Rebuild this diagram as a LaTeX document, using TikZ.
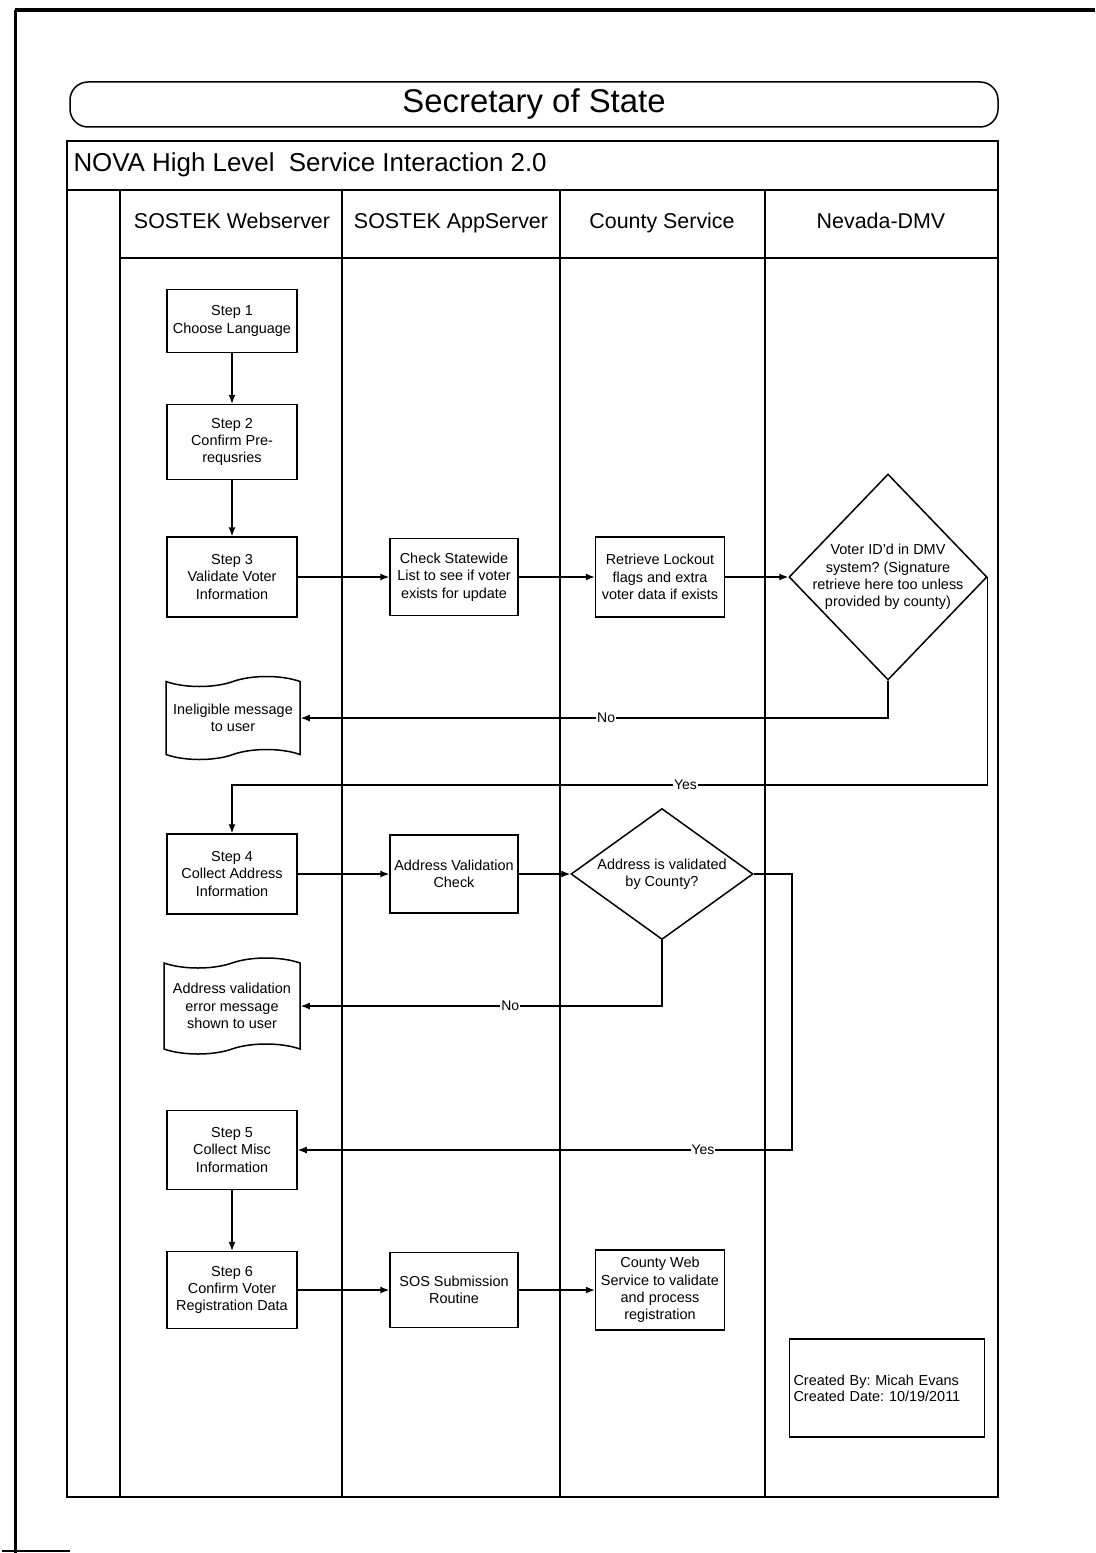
\documentclass[tikz,border=0pt]{standalone}
\usepackage{fontspec}
\setmainfont{Liberation Sans}
\frenchspacing
\usetikzlibrary{shapes.geometric,shapes.symbols,arrows.meta}

\tikzset{
  stepbox/.style={draw, line width=1.5bp, minimum width=130bp, minimum height=78bp,
    inner sep=2bp, align=center, font=\fontsize{14.5}{17.5}\selectfont},
  decision/.style={draw, diamond, line width=1.5bp, inner sep=-15bp, align=center,
    font=\fontsize{14.5}{17.5}\selectfont},
  message/.style={draw, tape, tape bend height=10bp, line width=1.5bp, minimum width=134bp,
    minimum height=83bp, align=center, font=\fontsize{14.5}{17.5}\selectfont},
  flow/.style={line width=1.2bp, -{Latex[length=9bp,width=7bp]}},
  answer/.style={fill=white, inner sep=1bp, font=\fontsize{14}{16}\selectfont},
  lanehead/.style={font=\fontsize{21.5}{26}\selectfont, text height=16bp, text depth=5bp}
}

\begin{document}
\begin{tikzpicture}[x=1bp, y=-1bp]
        \useasboundingbox (0,0) rectangle (1095,1553);

        % Page edge of the scan
        \draw[line width=4bp] (15,10) -- (1095,10);
        \draw[line width=3bp] (15,10) -- (15,1553);
        \draw[line width=2bp] (2,1551) -- (70,1551);

        % Title: Secretary of State
        \draw[rounded corners=18bp, line width=1.5bp] (70,82) rectangle (998,127);
        \node[font=\fontsize{33}{38}\selectfont] (sos) at (534,104) {Secretary of State};

        % Pool and lanes
        \draw[line width=1.8bp] (67,141) rectangle (998,1497);
        \draw[line width=1.8bp] (67,190) -- (998,190);
        \node[anchor=west, font=\fontsize{26}{30}\selectfont] (pool) at (70,165) {NOVA High Level\ \ Service Interaction 2.0};
        \draw[line width=1.5bp] (120,258) -- (998,258);
        \foreach \x in {120,342,560,765}
          \draw[line width=1.5bp] (\x,190) -- (\x,1497);
        \node[lanehead] (web) at (232,223) {SOSTEK Webserver};
        \node[lanehead] (app) at (451,223) {SOSTEK AppServer};
        \node[lanehead] (cty) at (662,223) {County Service};
        \node[lanehead] (nv) at (881,223) {Nevada-DMV};

        % First part: Steps 1 to 3 and voter lookup
        \node[stepbox, minimum height=63bp] (s1) at (232,321) {Step 1\\Choose Language};
        \node[stepbox, minimum height=75bp] (s2) at (232,442) {Step 2\\Confirm Pre-\\requsries};
        \node[stepbox, minimum height=80bp] (s3) at (232,577) {Step 3\\Validate Voter\\Information};
        \node[stepbox, minimum width=128bp, minimum height=77bp] (check) at (454,577) {Check Statewide\\List to see if voter\\exists for update};
        \node[stepbox, minimum width=129bp, minimum height=80bp] (lockout) at (660,577) {Retrieve Lockout\\flags and extra\\voter data if exists};
        \node[decision, minimum width=198bp, minimum height=206bp] (dmv) at (888,577) {Voter ID'd in DMV\\system? (Signature\\retrieve here too unless\\provided by county)};
        \node[message] (inelig) at (233,718) {Ineligible message\\to user};

        % Second part: Step 4 and address check
        \node[stepbox, minimum height=80bp] (s4) at (232,874) {Step 4\\Collect Address\\Information};
        \node[stepbox, minimum width=128bp, minimum height=78bp] (avc) at (454,874) {Address Validation\\Check};
        \node[decision, minimum width=182bp, minimum height=131bp] (addr) at (662,874) {Address is validated\\by County?};
        \node[message, minimum width=136bp, minimum height=96bp] (adderr) at (232,1006) {Address validation\\error message\\shown to user};

        % Third part: Steps 5 and 6 and submission
        \node[stepbox, minimum height=79bp] (s5) at (232,1150) {Step 5\\Collect Misc\\Information};
        \node[stepbox, minimum height=77bp] (s6) at (232,1290) {Step 6\\Confirm Voter\\Registration Data};
        \node[stepbox, minimum width=128bp, minimum height=75bp] (submit) at (454,1290) {SOS Submission\\Routine};
        \node[stepbox, minimum width=129bp, minimum height=80bp] (county) at (660,1290) {County Web\\Service to validate\\and process\\registration};

        % Credits box
        \node[draw, line width=1.5bp, minimum width=195bp, minimum height=98bp, text width=187bp,
          inner sep=3bp, align=left, font=\fontsize{14.5}{16}\selectfont] (credit) at (887,1388) {Created By: Micah Evans\\Created Date: 10/19/2011};

        % Connectors
        \coordinate (yesrow) at (0,785);
        \coordinate (yescol) at (792,0);
        \draw[flow] (s1.south) -- (s2.north);
        \draw[flow] (s2.south) -- (s3.north);
        \draw[flow] (s3.east) -- (check.west);
        \draw[flow] (check.east) -- (lockout.west);
        \draw[flow] (lockout.east) -- (dmv.west);
        \draw[flow] (dmv.south) |- node[answer, pos=0.74] {No} (inelig.east);
        \draw[flow] (dmv.east) -- (dmv.east |- yesrow) -| node[answer, pos=0.2] {Yes} (s4.north);
        \draw[flow] (s4.east) -- (avc.west);
        \draw[flow] (avc.east) -- (addr.west);
        \draw[flow] (addr.south) |- node[answer, pos=0.71] {No} (adderr.east);
        \draw[flow] (addr.east) -- (addr.east -| yescol) |- node[answer, pos=0.59] {Yes} (s5.east);
        \draw[flow] (s5.south) -- (s6.north);
        \draw[flow] (s6.east) -- (submit.west);
        \draw[flow] (submit.east) -- (county.west);

\end{tikzpicture}
\end{document}
